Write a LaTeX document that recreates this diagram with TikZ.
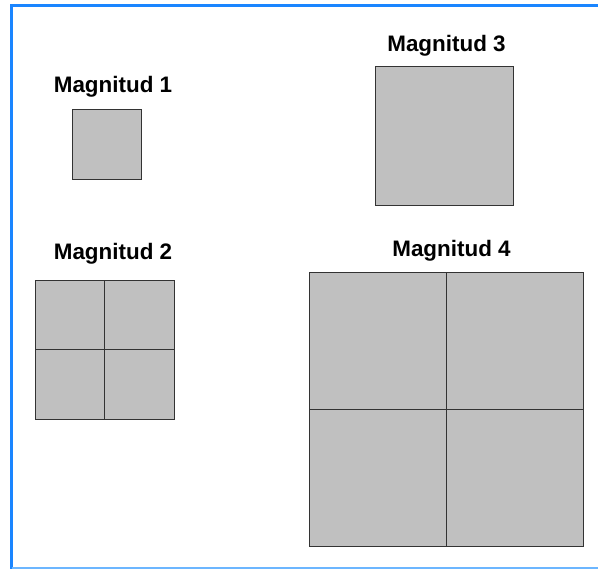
\documentclass[tikz,border=0pt]{standalone}
\usepackage{fontspec}
\setmainfont{Liberation Sans}
\begin{document}
\begin{tikzpicture}[x=1bp,y=-1bp,
  cell/.style={draw=black!80,line width=1bp,fill=boxgray,minimum size=#1,inner sep=0pt,outer sep=0pt,anchor=north west},
  lbl/.style={font=\fontsize{22.5}{25}\selectfont\bfseries,anchor=base,inner sep=0pt}]
\definecolor{boxgray}{HTML}{C0C0C0}
\definecolor{frameblue}{HTML}{1A85FF}
\definecolor{frameblue2}{HTML}{6CB6FF}
\useasboundingbox (0,0) rectangle (598,569);
% frame
\draw[frameblue,line width=2.5bp] (11.5,569) -- (11.5,5.5) -- (598,5.5);
\draw[frameblue2,line width=2bp] (11.5,568) -- (598,568);
% Magnitud 1
\node[lbl] (l1) at (113,92.5) {Magnitud 1};
\node[cell=69.5bp] (m1) at (72,110) {};
% Magnitud 2
\node[lbl] (l2) at (113,259.5) {Magnitud 2};
\node[cell=69.5bp] (m2a) at (35,280) {};
\node[cell=69.5bp] (m2b) at (104.5,280) {};
\node[cell=69.5bp] (m2c) at (35,349.5) {};
\node[cell=69.5bp] (m2d) at (104.5,349.5) {};
% Magnitud 3
\node[lbl] (l3) at (446.5,51.5) {Magnitud 3};
\node[cell=138bp] (m3) at (375,67) {};
% Magnitud 4
\node[lbl] (l4) at (451.5,256.5) {Magnitud 4};
\node[cell=137bp] (m4a) at (309,272) {};
\node[cell=137bp] (m4b) at (446,272) {};
\node[cell=137bp] (m4c) at (309,409) {};
\node[cell=137bp] (m4d) at (446,409) {};
\end{tikzpicture}
\end{document}
